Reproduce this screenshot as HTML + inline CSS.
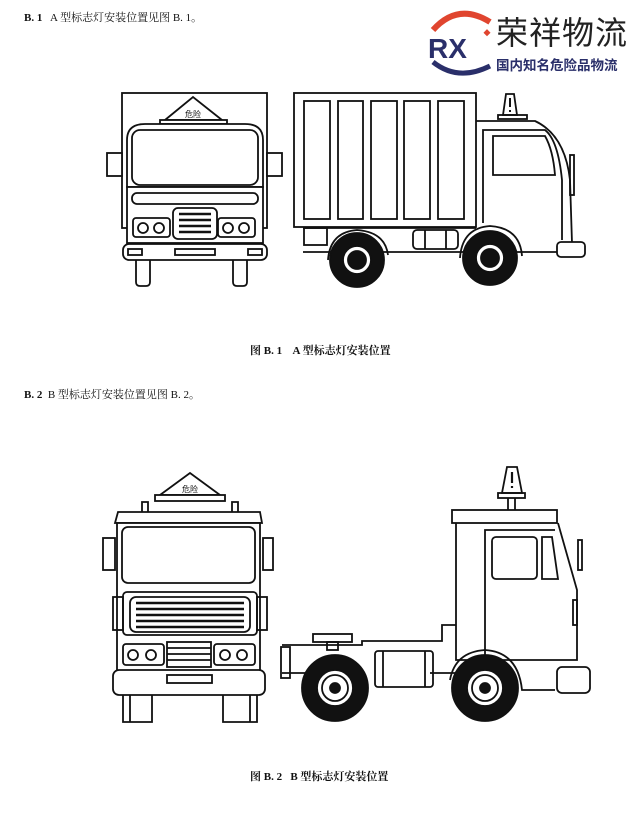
<!DOCTYPE html>
<html><head><meta charset="utf-8"><style>
html,body{margin:0;padding:0;background:#fff;}
body{width:640px;height:825px;position:relative;overflow:hidden;font-family:"Liberation Serif","Noto Serif CJK SC","Noto Sans CJK SC",serif;}
.t{position:absolute;font-size:11px;color:#111;white-space:nowrap;}
</style></head><body>
<div class="t" style="left:24px;top:9px;"><b>B. 1</b>&nbsp;&nbsp; A 型标志灯安装位置见图 B. 1。</div>
<div class="t" style="left:250px;top:342px;font-weight:bold;">图 B. 1&nbsp;&nbsp;&nbsp; A 型标志灯安装位置</div>
<div class="t" style="left:24px;top:386px;"><b>B. 2</b>&nbsp; B 型标志灯安装位置见图 B. 2。</div>
<div class="t" style="left:250px;top:768px;font-weight:bold;">图 B. 2&nbsp;&nbsp; B 型标志灯安装位置</div>
<div class="t" style="left:496px;top:8px;font-size:32px;font-family:'Noto Sans CJK SC',sans-serif;color:#222;letter-spacing:1px;">荣祥物流</div>
<div class="t" style="left:496px;top:54px;font-size:13.5px;font-weight:bold;font-family:'Noto Sans CJK SC',sans-serif;color:#2a2f6a;">国内知名危险品物流</div>
<svg width="640" height="825" style="position:absolute;left:0;top:0" fill="none" stroke="#111" stroke-width="1.8">
<!-- logo -->
<path d="M433,30 Q458,2 490,22" stroke="#e0452f" stroke-width="6"/>
<path d="M433,62 Q458,82 490,66" stroke="#2a2f6a" stroke-width="5"/>
<text x="428" y="58" font-family="Liberation Sans,sans-serif" font-weight="bold" font-size="28" fill="#2a2f6a" stroke="none">RX</text>
<rect x="485" y="30" width="5" height="5" fill="#e0452f" stroke="none" transform="rotate(45 487 32)"/>

<!-- Truck A front -->
<rect x="122" y="93" width="145" height="135"/>
<path d="M165,120 L193,97 L222,120 Z" fill="#fff"/>
<text x="185" y="117" font-size="8" fill="#111" stroke="none" font-family="Noto Sans CJK SC,sans-serif">危险</text>
<rect x="160" y="120" width="67" height="4" fill="#fff"/>
<path d="M127,187 L127,140 Q127,124 145,124 L245,124 Q263,124 263,140 L263,187 Z" fill="#fff"/>
<rect x="127" y="187" width="136" height="56" fill="#fff"/>
<rect x="132" y="130" width="126" height="55" rx="8"/>
<rect x="107" y="153" width="15" height="23" fill="#fff"/><rect x="267" y="153" width="15" height="23" fill="#fff"/>
<rect x="132" y="193" width="126" height="11" rx="5"/>
<rect x="133" y="218" width="37" height="19" rx="3"/><circle cx="143" cy="228" r="5"/><circle cx="159" cy="228" r="5"/>
<rect x="218" y="218" width="37" height="19" rx="3"/><circle cx="228" cy="228" r="5"/><circle cx="244" cy="228" r="5"/>
<rect x="173" y="208" width="44" height="31" rx="5"/>
<path d="M179,214h32M179,220h32M179,226h32M179,232h32" stroke-width="2.5"/>
<rect x="123" y="244" width="144" height="16" rx="6" fill="#fff"/>
<rect x="128" y="249" width="14" height="6"/><rect x="175" y="249" width="40" height="6"/><rect x="248" y="249" width="14" height="6"/>
<path d="M136,260v22q0,4 4,4h6q4,0 4-4v-22M233,260v22q0,4 4,4h6q4,0 4-4v-22"/>

<!-- Truck A side -->
<rect x="294" y="93" width="182" height="134"/>
<rect x="304" y="101" width="26" height="118"/><rect x="338" y="101" width="25" height="118"/><rect x="371" y="101" width="26" height="118"/><rect x="404" y="101" width="26" height="118"/><rect x="438" y="101" width="26" height="118"/>
<path d="M476,121 L535,121 Q565,135 570,180 L572,243"/>
<path d="M483,223 L483,130 L545,130 Q558,140 562,180 L562,240"/>
<path d="M493,175 L493,136 L545,136 Q553,150 555,175 Z"/>
<path d="M506,94 L514,94 L517,115 L503,115 Z"/><path d="M510,98v9M510,110v2" stroke-width="2"/><rect x="498" y="115" width="29" height="4"/>
<rect x="570" y="155" width="4" height="40"/>
<path d="M303,228 L476,228 M303,252 L573,252"/>
<rect x="304" y="228" width="23" height="17"/>
<rect x="413" y="230" width="45" height="19" rx="4"/><path d="M425,230v19M446,230v19"/>
<rect x="557" y="242" width="28" height="15" rx="4" fill="#fff"/>
<path d="M328,260 Q330,232 357,230 Q385,232 388,255"/><path d="M460,258 Q462,228 490,226 Q520,228 522,256"/>
<circle cx="357" cy="260" r="27" fill="#111"/><circle cx="357" cy="260" r="14" fill="#fff"/><circle cx="357" cy="260" r="9" fill="#111"/>
<circle cx="490" cy="258" r="27" fill="#111"/><circle cx="490" cy="258" r="14" fill="#fff"/><circle cx="490" cy="258" r="9" fill="#111"/>

<!-- Truck B front -->
<path d="M160,495 L190,473 L220,495 Z" fill="#fff"/>
<text x="182" y="492" font-size="8" fill="#111" stroke="none" font-family="Noto Sans CJK SC,sans-serif">危险</text>
<rect x="155" y="495" width="70" height="6" fill="#fff"/>
<path d="M142,512v-10h6v10M232,512v-10h6v10"/>
<path d="M115,523 L118,512 L260,512 L262,523 Z" fill="#fff"/>
<rect x="117" y="523" width="143" height="150" fill="#fff"/>
<rect x="122" y="527" width="133" height="56" rx="6"/>
<rect x="103" y="538" width="12" height="32"/><rect x="263" y="538" width="10" height="32"/>
<rect x="123" y="592" width="134" height="43" rx="4"/>
<rect x="130" y="597" width="120" height="35" rx="6"/>
<path d="M136,603h108M136,609h108M136,615h108M136,621h108M136,627h108" stroke-width="2.4"/>
<rect x="113" y="597" width="10" height="33"/><rect x="257" y="597" width="10" height="33"/>
<rect x="123" y="644" width="41" height="21" rx="3"/><circle cx="133" cy="655" r="5"/><circle cx="151" cy="655" r="5"/>
<rect x="214" y="644" width="41" height="21" rx="3"/><circle cx="225" cy="655" r="5"/><circle cx="242" cy="655" r="5"/>
<rect x="167" y="642" width="44" height="25"/><path d="M167,648h44M167,654h44M167,660h44"/>
<rect x="113" y="670" width="152" height="25" rx="6" fill="#fff"/>
<rect x="167" y="675" width="45" height="8"/>
<path d="M123,695v27h29v-27M223,695v27h34v-27M130,695v27M250,695v27"/>

<!-- Truck B side -->
<path d="M507,467 L517,467 L522,493 L502,493 Z" fill="#fff"/><path d="M512,472v11M512,486v2" stroke-width="2.2"/>
<rect x="498" y="493" width="27" height="5"/><path d="M508,498v14M515,498v14"/>
<rect x="452" y="510" width="105" height="13" fill="#fff"/>
<path d="M456,523 L456,660 L577,660 L577,590 L558,523"/>
<path d="M485,660 L485,530 L555,530"/>
<rect x="492" y="537" width="45" height="42" rx="4"/><path d="M542,537 L552,537 L558,579 L542,579 Z"/>
<rect x="578" y="540" width="4" height="30"/><rect x="573" y="600" width="4" height="25"/>
<path d="M282,645 L362,645 L362,641 L442,641 L442,625 L456,625"/>
<path d="M282,673 L365,673 M430,673 L456,673"/>
<rect x="281" y="647" width="9" height="31"/>
<rect x="313" y="634" width="39" height="8"/><rect x="327" y="642" width="11" height="8"/>
<rect x="375" y="651" width="58" height="36" rx="3"/><path d="M383,651v36M425,651v36"/>
<path d="M450,680 Q455,652 485,650 Q518,652 522,690 L555,690"/>
<rect x="557" y="667" width="33" height="26" rx="5" fill="#fff"/>
<circle cx="335" cy="688" r="33" fill="#111"/><circle cx="335" cy="688" r="18" fill="#fff"/><circle cx="335" cy="688" r="13" fill="#fff" stroke="#111"/><circle cx="335" cy="688" r="5" fill="#111"/>
<circle cx="485" cy="688" r="33" fill="#111"/><circle cx="485" cy="688" r="18" fill="#fff"/><circle cx="485" cy="688" r="13" fill="#fff" stroke="#111"/><circle cx="485" cy="688" r="5" fill="#111"/>
</svg>
</body></html>
